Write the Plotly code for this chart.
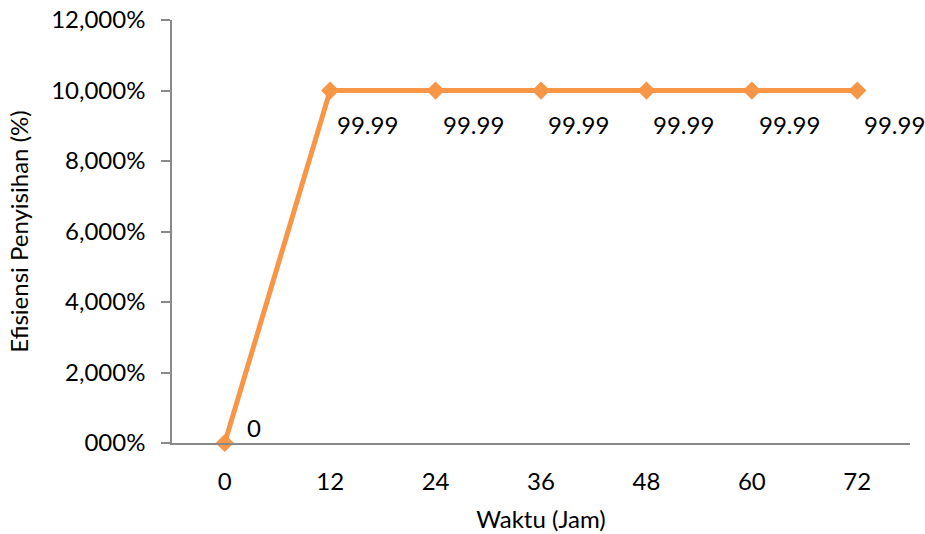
import plotly.graph_objects as go

# Removal efficiency over time
waktu = ["0", "12", "24", "36", "48", "60", "72"]
efisiensi = [0, 99.99, 99.99, 99.99, 99.99, 99.99, 99.99]

y_tickvals = [0, 20, 40, 60, 80, 100, 120]
y_ticktext = ["000%", "2,000%", "4,000%", "6,000%", "8,000%", "10,000%", "12,000%"]

orange = "#F79646"
axis_grey = "#898989"
font_family = "Lato, 'Open Sans', sans-serif"
font_size = 24

fig = go.Figure()
fig.add_trace(go.Scatter(
    x=waktu,
    y=efisiensi,
    mode="lines+markers",
    line=dict(color=orange, width=5),
    marker=dict(symbol="diamond", size=14, color=orange),
    cliponaxis=False,
    showlegend=False,
))

# Data labels: zero sits above-right, the plateau values below-right
for i, yv in enumerate(efisiensi):
    if yv == 0:
        xs, ys = 20, 16
    else:
        xs, ys = 5, -34
    fig.add_annotation(
        x=i, y=yv, xref="x", yref="y", text=f"{yv:g}", showarrow=False,
        xanchor="left", yanchor="middle", xshift=xs, yshift=ys,
        font=dict(family=font_family, size=font_size, color="#000000"),
    )

fig.update_layout(
    width=925, height=534,
    margin=dict(l=172, r=15, t=20, b=91, autoexpand=False),
    paper_bgcolor="white",
    plot_bgcolor="white",
    font=dict(family=font_family, size=font_size, color="#000000"),
    xaxis=dict(
        type="category",
        range=[-0.5, 6.5],
        automargin=False,
        showline=True, linecolor=axis_grey, linewidth=1.5,
        showgrid=False, zeroline=False,
        ticks="",
        ticklabelstandoff=16,
        title=dict(text="Waktu (Jam)", standoff=18,
                   font=dict(family=font_family, size=font_size)),
    ),
    yaxis=dict(
        range=[0, 120],
        automargin=False,
        tickvals=y_tickvals,
        ticktext=y_ticktext,
        showline=True, linecolor=axis_grey, linewidth=1.5,
        showgrid=False, zeroline=False,
        ticks="outside", ticklen=9, tickcolor=axis_grey, tickwidth=1.5,
        ticklabelstandoff=11,
        title=dict(text="Efisiensi Penyisihan (%)", standoff=16,
                   font=dict(family=font_family, size=font_size)),
    ),
)

fig.write_html("out.html")
